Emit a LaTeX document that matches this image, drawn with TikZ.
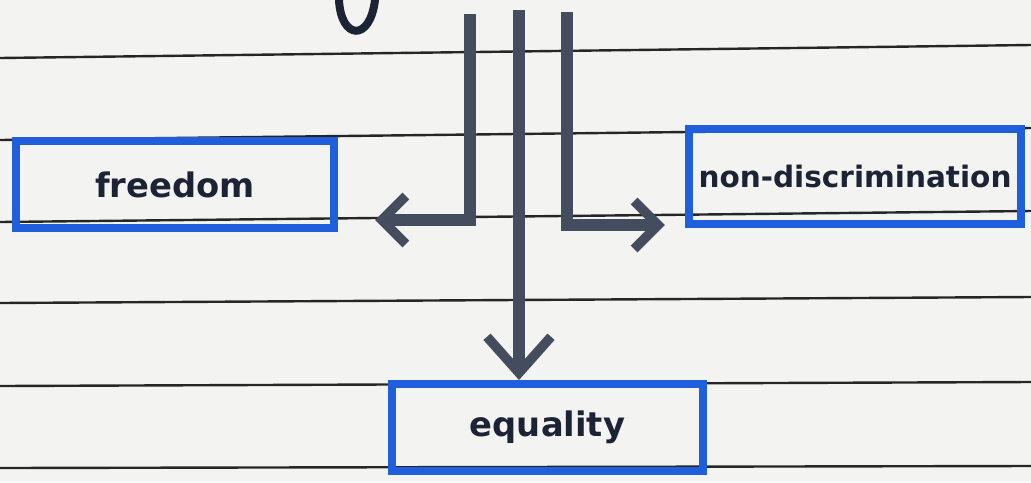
\documentclass[tikz,border=0pt]{standalone}
\usepackage{fontspec}
\setmainfont{DejaVu Sans}
\usetikzlibrary{arrows.meta}
\definecolor{paper}{HTML}{F3F3F1}
\definecolor{penblue}{HTML}{1F5FDB}
\definecolor{inkgray}{HTML}{434D5E}
\definecolor{inknavy}{HTML}{1C2334}

\begin{document}
\begin{tikzpicture}[x=0.025cm,y=-0.025cm,block/.style={draw=penblue,line width=0.2cm,inner sep=6pt,minimum height=2.175cm,font=\fontsize{24}{28}\bfseries,text=inknavy},arrow/.style={-{Straight Barb[length=0.6cm,width=1.2cm,line width=0.24cm]},line width=0.32cm,draw=inkgray},rule/.style={line width=0.06cm,draw=black!85}]
\useasboundingbox[fill=paper] (0,0) rectangle (1031,482);
\foreach \a/\b in {58/45,140/128,222/211,303/297,386/382,468/466}
  \draw[rule] (0,\a) -- (1031,\b);
\draw[line width=0.2cm,draw=inknavy,line cap=round] (339,0) .. controls (341,40) and (370,42) .. (375,0);
\node[block,minimum width=7.95cm] (n0) at (175,184.5) {freedom};
\node[block,minimum width=7.775cm] (n1) at (547.5,427.5) {equality};
\node[block,minimum width=8.3cm,minimum height=2.375cm,inner sep=2pt,font=\fontsize{21}{25}\bfseries] (n2) at (855,176.5) {non-discrimination};
\coordinate (s0) at (470,14);
\coordinate (s1) at (519,10);
\coordinate (s2) at (567,12);
\draw[arrow] (s0) |- ([shift={(0.925cm,0.3cm)}]n0.south east);
\draw[arrow,-{Straight Barb[length=0.9cm,width=1.6cm,line width=0.24cm]}] (s1) -- (s1 |- n1.north);
\draw[arrow] (s2) |- ([shift={(-0.5cm,0.075cm)}]n2.south west);
\end{tikzpicture}
\end{document}
